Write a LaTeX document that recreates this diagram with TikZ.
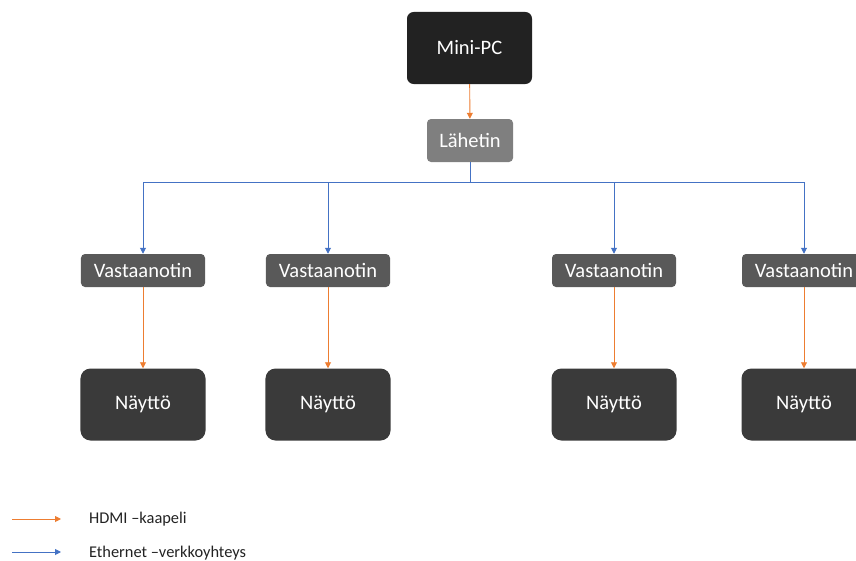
\documentclass[tikz,border=0pt]{standalone}
\usepackage{fontspec}
\setmainfont{Carlito}
\usetikzlibrary{arrows.meta}
\definecolor{hdmiorange}{HTML}{ED7D31}
\definecolor{ethblue}{HTML}{4472C4}
\definecolor{pcblack}{HTML}{222222}
\definecolor{txgray}{HTML}{7F7F7F}
\definecolor{rxgray}{HTML}{595959}
\definecolor{dispgray}{HTML}{3A3A3A}
\begin{document}
\begin{tikzpicture}[
        x=0.03cm, y=-0.03cm,
        box/.style={rounded corners=0.2cm, text=white, font=\fontsize{17.5}{20}\selectfont},
        pc/.style={box, fill=pcblack, minimum width=3.75cm, minimum height=2.16cm},
        tx/.style={box, fill=txgray, minimum width=2.58cm, minimum height=1.29cm, rounded corners=0.12cm},
        rx/.style={box, fill=rxgray, minimum width=3.72cm, minimum height=0.99cm, rounded corners=0.12cm},
        disp/.style={box, fill=dispgray, minimum width=3.75cm, minimum height=2.16cm, rounded corners=0.3cm},
        hdmi/.style={hdmiorange, line width=0.8pt, -{Triangle[length=0.18cm,width=0.18cm]}},
        eth/.style={ethblue, line width=0.8pt},
        legendtext/.style={anchor=west, text=pcblack, font=\fontsize{14}{16}\selectfont}
    ]
    \clip (0,0) rectangle (856,561);
    \useasboundingbox (0,0) rectangle (856,561);
    \node [pc] (minipc) at (469.5,48) {Mini-PC};
    \node [tx] (lahetin) at (470,140.5) {Lähetin};
    \node [rx] (rx1) at (143,270.5) {Vastaanotin};
    \node [rx] (rx2) at (328,270.5) {Vastaanotin};
    \node [rx] (rx3) at (614,270.5) {Vastaanotin};
    \node [rx] (rx4) at (804,270.5) {Vastaanotin};
    \node [disp] (disp1) at (143,404.5) {Näyttö};
    \node [disp] (disp2) at (328,404.5) {Näyttö};
    \node [disp] (disp3) at (614,404.5) {Näyttö};
    \node [disp] (disp4) at (804,404.5) {Näyttö};
    % HDMI
    \draw [hdmi] (minipc) -- (lahetin);
    \foreach \i in {1,2,3,4}
        \draw [hdmi] (rx\i) -- (disp\i);
    % Ethernet
    \coordinate (bus) at (470,182);
    \draw [eth] (lahetin.south) -- (bus);
    \foreach \i in {1,2,3,4}
        \draw [eth, -{Triangle[length=0.18cm,width=0.18cm]}] (bus) -| (rx\i.north);
    % legend
    \coordinate (hdmistart) at (12,519);
    \coordinate (hdmiend) at (61,519);
    \coordinate (ethstart) at (12,552);
    \coordinate (ethend) at (61,552);
    \draw [hdmi] (hdmistart) -- (hdmiend);
    \draw [eth, -{Triangle[length=0.18cm,width=0.18cm]}] (ethstart) -- (ethend);
    \node [legendtext] (hdmilabel) at (85,519) {HDMI –kaapeli};
    \node [legendtext] (ethlabel) at (85,553) {Ethernet –verkkoyhteys};
\end{tikzpicture}
\end{document}
